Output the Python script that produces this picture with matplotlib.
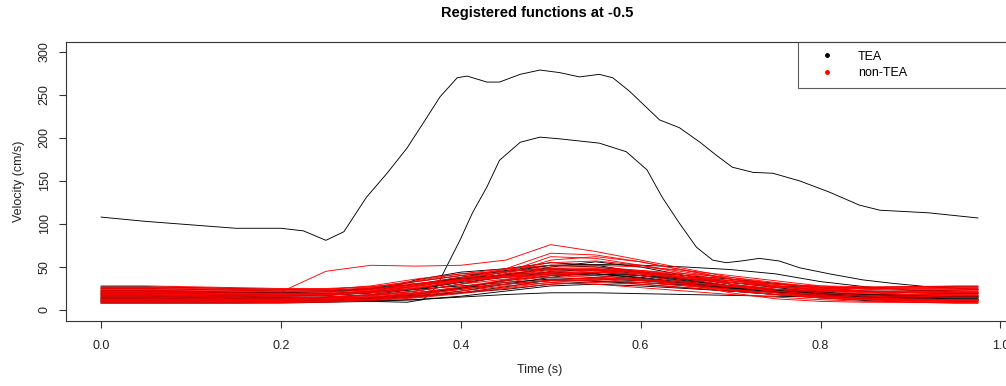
import matplotlib
matplotlib.use("Agg")
import matplotlib.pyplot as plt
from matplotlib.lines import Line2D

plt.rcParams["font.family"] = ["Liberation Sans", "DejaVu Sans"]

# common time grid (s) for the low-velocity registered curves
time_grid = [0.0, 0.05, 0.1, 0.15, 0.2, 0.25, 0.3, 0.35, 0.4, 0.45, 0.5,
             0.55, 0.6, 0.65, 0.7, 0.75, 0.8, 0.85, 0.9, 0.95, 0.975]

# TEA group, low-velocity curves (cm/s)
tea_curves = [
    [12, 12, 11, 11, 11, 12, 14, 18, 25, 35, 45, 47, 42, 35, 28, 22, 18, 15, 13, 12, 12],
    [18, 18, 17, 17, 16, 17, 20, 28, 36, 44, 52, 50, 44, 38, 30, 24, 20, 18, 17, 16, 16],
    [22, 22, 21, 20, 20, 21, 24, 30, 38, 46, 52, 53, 52, 50, 47, 42, 33, 27, 23, 21, 21],
    [9, 9, 9, 9, 9, 10, 12, 15, 20, 27, 35, 38, 35, 30, 24, 20, 16, 13, 11, 10, 10],
    [15, 15, 15, 14, 14, 15, 18, 24, 32, 38, 42, 40, 36, 30, 26, 22, 19, 17, 15, 14, 14],
    [25, 25, 24, 23, 22, 22, 25, 33, 40, 45, 48, 46, 40, 34, 28, 24, 22, 22, 22, 23, 24],
    [11, 11, 11, 10, 10, 10, 11, 12, 15, 18, 20, 20, 19, 18, 17, 16, 15, 14, 13, 12, 12],
    [20, 20, 19, 18, 17, 17, 20, 35, 44, 48, 55, 52, 44, 36, 28, 22, 19, 18, 18, 19, 19],
    [13, 13, 12, 12, 12, 12, 13, 16, 22, 30, 38, 44, 40, 33, 26, 22, 18, 16, 14, 13, 13],
    [17, 17, 16, 16, 15, 15, 17, 22, 30, 40, 50, 56, 50, 40, 32, 26, 21, 18, 16, 15, 15],
    [8, 8, 8, 8, 8, 9, 10, 12, 16, 22, 28, 30, 28, 25, 22, 18, 14, 11, 9, 8, 8],
    [27, 27, 26, 25, 24, 23, 25, 30, 36, 40, 42, 42, 40, 36, 32, 28, 26, 26, 27, 27, 27],
    [14, 14, 14, 13, 13, 13, 14, 18, 26, 34, 40, 42, 38, 32, 27, 23, 20, 18, 16, 15, 15],
    [19, 19, 19, 18, 18, 18, 20, 24, 28, 32, 36, 36, 34, 30, 26, 22, 19, 17, 16, 16, 16],
    [10, 10, 10, 10, 10, 11, 14, 20, 26, 30, 34, 34, 30, 26, 22, 18, 15, 13, 12, 11, 11],
    [23, 23, 22, 21, 20, 19, 21, 25, 33, 42, 47, 47, 44, 40, 36, 31, 26, 22, 20, 19, 19],
    [16, 16, 15, 15, 14, 14, 15, 17, 20, 24, 30, 33, 32, 29, 25, 21, 18, 16, 15, 14, 14],
    [21, 21, 20, 20, 19, 19, 22, 30, 37, 41, 44, 42, 37, 31, 26, 21, 17, 14, 12, 11, 11],
]

# TEA group, the two high-velocity curves (own time points)
tea_high1_t = [0.0, 0.05, 0.1, 0.15, 0.2, 0.225, 0.25, 0.27, 0.295, 0.318, 0.34,
               0.358, 0.377, 0.396, 0.407, 0.429, 0.443, 0.466, 0.488, 0.51, 0.532,
               0.554, 0.569, 0.588, 0.607, 0.621, 0.643, 0.666, 0.684, 0.702, 0.725,
               0.747, 0.777, 0.81, 0.843, 0.866, 0.92, 0.975]
tea_high1_v = [108, 103, 99, 95, 95, 92, 81, 91, 131, 159, 188,
               217, 248, 270, 272, 265, 265, 274, 279, 276, 271,
               274, 270, 254, 235, 221, 212, 195, 180, 166, 160,
               159, 150, 137, 122, 116, 113, 107]

tea_high2_t = [0.0, 0.05, 0.1, 0.15, 0.2, 0.25, 0.3, 0.34, 0.358, 0.373, 0.384,
               0.399, 0.413, 0.429, 0.443, 0.466, 0.488, 0.51, 0.554, 0.584, 0.607,
               0.624, 0.643, 0.662, 0.68, 0.695, 0.712, 0.732, 0.754, 0.777, 0.81,
               0.847, 0.88, 0.92, 0.975]
tea_high2_v = [14, 14, 13, 13, 12, 12, 10, 9, 12, 27, 50,
               81, 113, 143, 174, 195, 201, 199, 194, 184, 163,
               131, 101, 73, 58, 55, 57, 60, 57, 49, 42,
               35, 31, 27, 24]

# non-TEA group (cm/s)
non_tea_curves = [
    [22, 22, 21, 21, 21, 45, 52, 51, 52, 58, 76, 68, 58, 48, 38, 30, 26, 24, 23, 23, 23],
    [10, 10, 10, 10, 10, 11, 13, 17, 24, 32, 40, 44, 42, 36, 28, 22, 17, 14, 12, 11, 11],
    [26, 26, 25, 24, 24, 24, 27, 33, 40, 47, 55, 57, 52, 44, 36, 30, 26, 25, 26, 26, 26],
    [14, 14, 14, 13, 13, 14, 17, 22, 30, 40, 48, 48, 44, 37, 30, 24, 20, 17, 16, 15, 15],
    [18, 18, 18, 17, 17, 18, 22, 30, 38, 44, 50, 50, 46, 40, 34, 28, 24, 22, 21, 20, 20],
    [8, 8, 8, 8, 9, 10, 12, 16, 22, 28, 32, 30, 26, 22, 18, 15, 12, 10, 9, 9, 9],
    [21, 21, 20, 20, 19, 19, 22, 28, 36, 44, 62, 60, 52, 42, 34, 28, 24, 22, 21, 21, 21],
    [12, 12, 12, 12, 12, 13, 16, 22, 30, 36, 38, 36, 32, 28, 24, 20, 16, 14, 13, 12, 12],
    [24, 24, 23, 23, 22, 22, 26, 34, 42, 48, 52, 52, 50, 46, 40, 34, 28, 25, 24, 24, 24],
    [16, 16, 16, 15, 15, 15, 17, 20, 26, 34, 42, 46, 44, 38, 32, 27, 23, 20, 18, 17, 17],
    [28, 28, 27, 26, 25, 25, 27, 31, 35, 39, 42, 40, 36, 32, 28, 26, 25, 26, 27, 28, 28],
    [11, 11, 11, 11, 11, 12, 15, 20, 27, 35, 44, 47, 45, 40, 30, 20, 14, 12, 11, 11, 11],
    [20, 20, 20, 19, 19, 20, 24, 30, 35, 38, 40, 38, 34, 30, 27, 24, 22, 21, 20, 20, 20],
    [13, 13, 13, 12, 12, 13, 15, 19, 24, 30, 35, 37, 35, 30, 24, 18, 14, 12, 11, 11, 11],
    [23, 23, 22, 22, 21, 21, 23, 28, 34, 42, 58, 62, 56, 46, 36, 28, 23, 21, 21, 22, 22],
    [9, 9, 9, 9, 9, 9, 11, 14, 19, 25, 30, 32, 30, 26, 22, 18, 15, 12, 10, 9, 9],
    [17, 17, 17, 16, 16, 17, 20, 26, 34, 40, 46, 48, 46, 42, 38, 32, 26, 21, 18, 17, 17],
    [26, 26, 26, 25, 24, 24, 28, 36, 42, 45, 48, 47, 43, 38, 34, 30, 28, 27, 27, 27, 27],
    [15, 15, 15, 14, 14, 15, 18, 25, 34, 42, 48, 46, 40, 33, 27, 22, 18, 16, 15, 15, 15],
    [19, 19, 18, 18, 18, 18, 21, 27, 36, 48, 66, 64, 56, 46, 36, 28, 22, 19, 18, 18, 18],
    [12, 12, 12, 11, 11, 12, 14, 18, 24, 30, 34, 34, 32, 28, 23, 18, 15, 13, 12, 12, 12],
    [25, 25, 24, 24, 23, 23, 25, 29, 34, 38, 42, 44, 42, 38, 34, 30, 27, 25, 25, 25, 25],
    [10, 10, 10, 10, 10, 10, 12, 15, 20, 26, 32, 36, 36, 30, 20, 13, 10, 9, 9, 9, 9],
    [20, 20, 19, 19, 18, 18, 20, 25, 33, 40, 44, 44, 42, 38, 32, 27, 23, 21, 20, 20, 20],
]

x_ticks = [0.0, 0.2, 0.4, 0.6, 0.8, 1.0]
x_tick_labels = ["0.0", "0.2", "0.4", "0.6", "0.8", "1.0"]
y_ticks = [0, 50, 100, 150, 200, 250, 300]
legend_labels = ["TEA", "non-TEA"]

W, H = 1006, 386
fig = plt.figure(figsize=(W / 100, H / 100), dpi=100)
# plot region in pixels: left 66, right 1013 (runs past the canvas), top 42, bottom 321
ax = fig.add_axes([66 / W, 1 - 321 / H, (1013 - 66) / W, (321 - 42) / H])

lw = 0.65
ax.plot(tea_high1_t, tea_high1_v, color="black", lw=lw)
ax.plot(tea_high2_t, tea_high2_v, color="black", lw=lw)
for c in tea_curves:
    ax.plot(time_grid, c, color="black", lw=lw)
for c in non_tea_curves:
    ax.plot(time_grid, c, color="red", lw=lw)

ax.set_xlim(-0.039, 1.014)
ax.set_ylim(-12.8, 311.6)
ax.set_xticks(x_ticks)
ax.set_xticklabels(x_tick_labels)
ax.set_yticks(y_ticks)
ax.set_yticklabels([str(v) for v in y_ticks], rotation=90, va="center")

for s in ["left", "bottom", "top", "right"]:
    ax.spines[s].set_color("#333333")
    ax.spines[s].set_linewidth(0.8)
ax.tick_params(axis="both", direction="out", length=5, width=0.8,
               color="#333333", labelsize=9, labelcolor="#222222")
ax.tick_params(axis="x", pad=9)
ax.tick_params(axis="y", pad=6)

ax.set_xlabel("Time (s)", fontsize=9, color="#222222", labelpad=8)
ax.set_ylabel("Velocity (cm/s)", fontsize=9, color="#222222", labelpad=10)
fig.text(537 / W, 1 - 13 / H, "Registered functions at -0.5", ha="center",
         va="center", fontsize=10.5, fontweight="bold")

handles = [Line2D([], [], linestyle="none", marker="o", markersize=2.5,
                  color="black"),
           Line2D([], [], linestyle="none", marker="o", markersize=2.5,
                  color="red")]
leg = ax.legend(handles, legend_labels, loc="upper left", mode="expand",
                bbox_to_anchor=(798 / W, 1 - 85 / H, 215 / W, 43 / H),
                bbox_transform=fig.transFigure, fontsize=9, frameon=True,
                fancybox=False, borderaxespad=0, borderpad=0.7,
                handlelength=3.2, handletextpad=0.9, labelspacing=0.35)
leg.get_frame().set_edgecolor("#333333")
leg.get_frame().set_linewidth(0.8)

fig.savefig("out.png", dpi=100)
